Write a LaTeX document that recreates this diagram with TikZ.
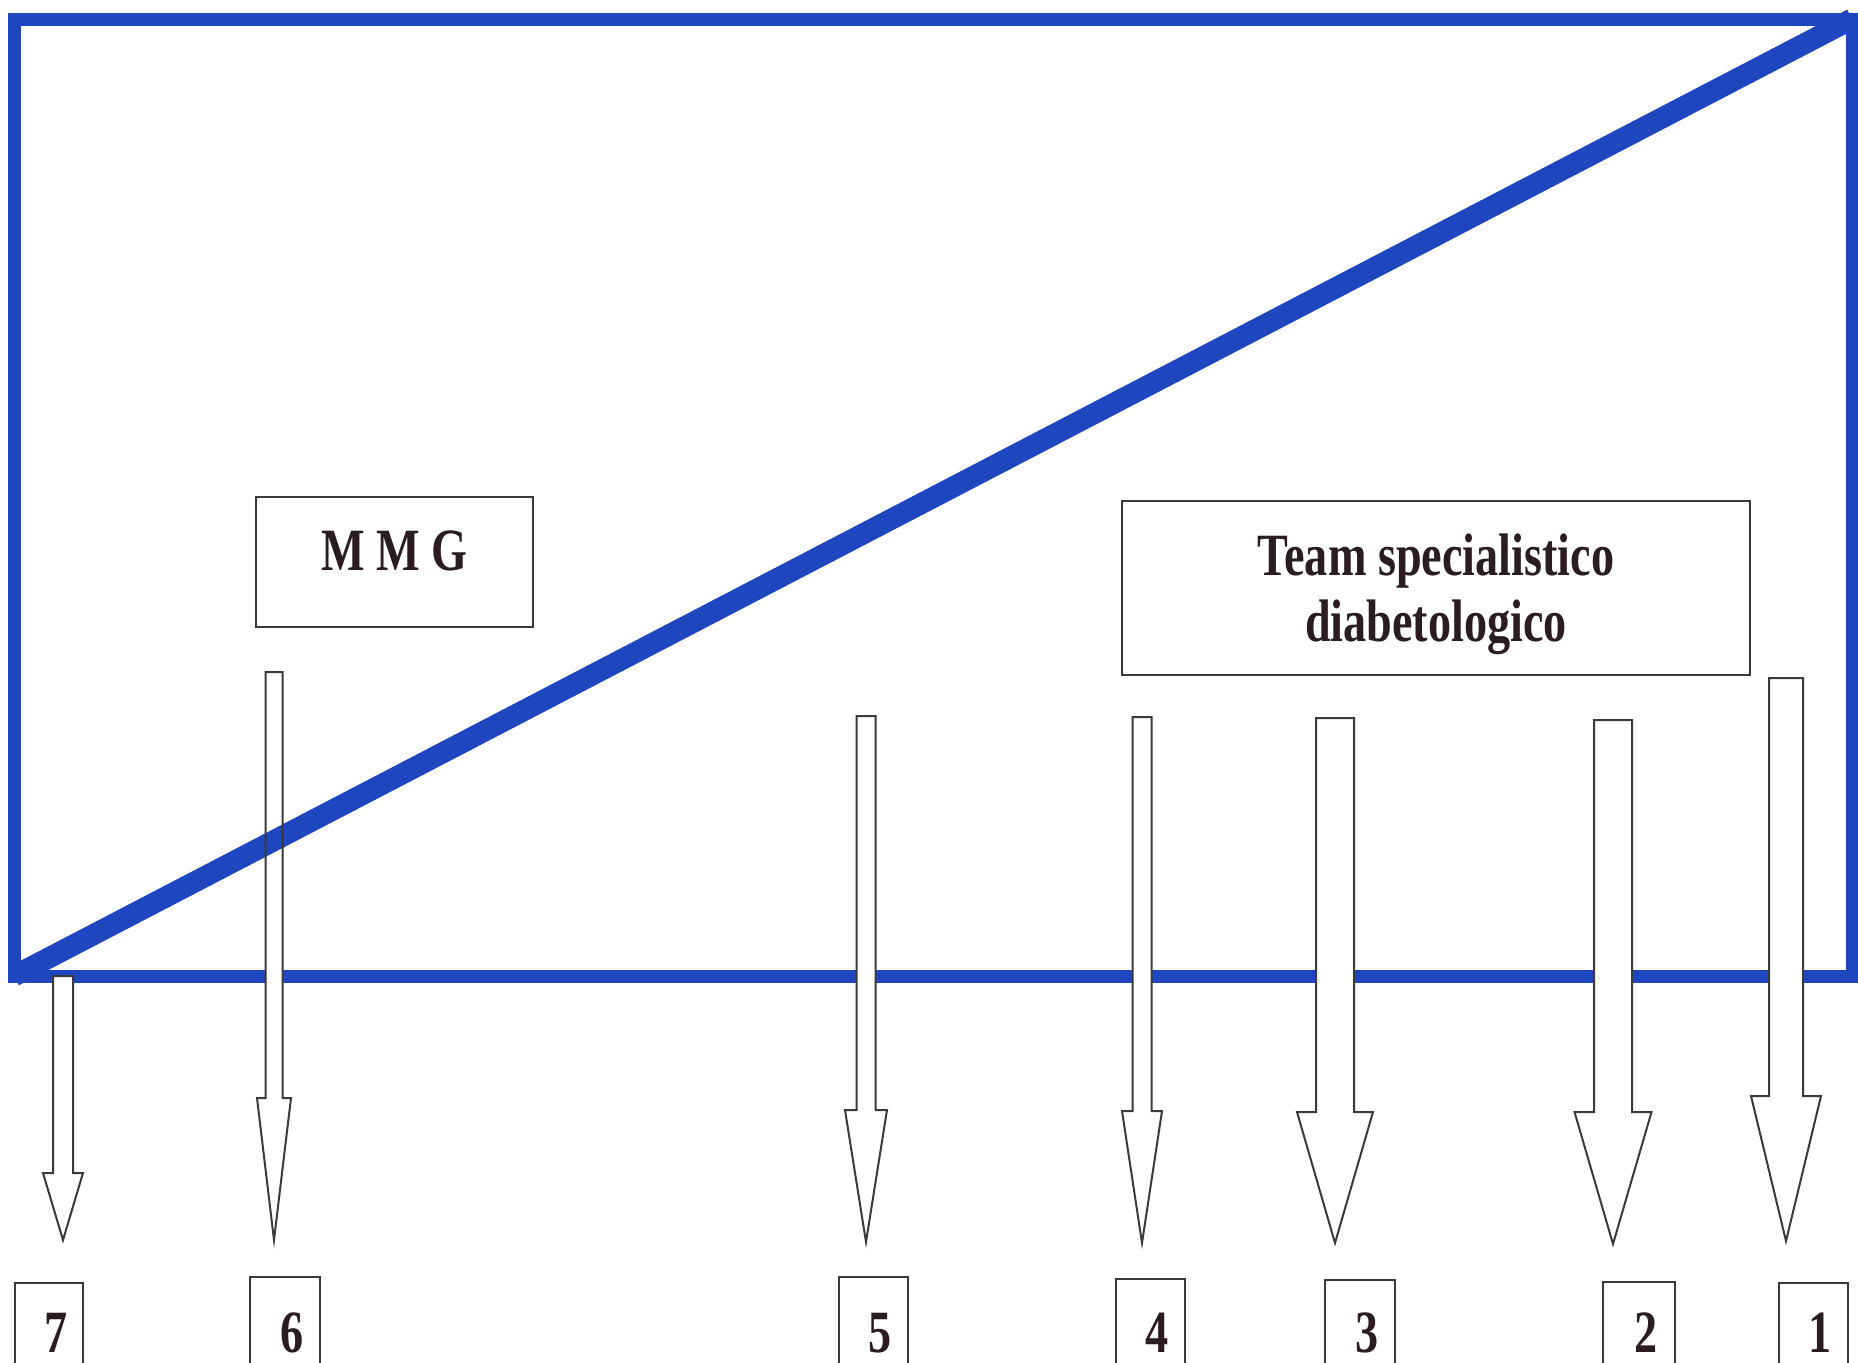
\documentclass[tikz,border=0pt]{standalone}
\usepackage{fontspec}
\newfontfamily\labelfont{Liberation Serif}[FakeStretch=0.77]
\definecolor{frameblue}{RGB}{30,70,190}
\definecolor{boxgray}{RGB}{58,58,58}
\definecolor{labelink}{RGB}{42,28,32}

% outline of a downward block arrow: centre x, top, shaft width, head width, head start, tip
\newcommand\arrowoutline[6]{(#1-#3/2,#2) -- (#1+#3/2,#2) -- (#1+#3/2,#5) -- (#1+#4/2,#5)
  -- (#1,#6) -- (#1-#4/2,#5) -- (#1-#3/2,#5) -- cycle}

% number / centre x / top / shaft width / head width / head start / tip
\def\arrowdata{7/63/976/20/40/1173/1240, 6/274/672/17/34/1098/1240,
  5/866/716/19/42/1110/1242, 4/1142/717/19/40/1111/1243,
  3/1335/718/38/76/1112/1243, 2/1613/720/38/77/1112/1244,
  1/1786/678/34/70/1096/1241}

% number / left / right / top of the numbered boxes
\def\boxdata{7/15/83/1283, 6/250/320/1277, 5/839/908/1277, 4/1116/1185/1279,
  3/1325/1395/1280, 2/1603/1675/1282, 1/1779/1848/1283}

\begin{document}
\begin{tikzpicture}[x=0.5pt, y=-0.5pt,
  labelfont/.style={font=\labelfont\bfseries\fontsize{30pt}{33pt}\selectfont, text=labelink},
  labelbox/.style={labelfont, draw=boxgray, line width=1.25pt, fill=white, inner sep=0pt},
  numlabel/.style={labelfont, anchor=base, inner sep=0pt},
  numframe/.style={draw=boxgray, line width=1.25pt},
  blockfill/.style={fill=white},
  blockline/.style={draw=boxgray, line width=1pt, line join=miter},
  frame/.style={draw=frameblue, line width=6.5pt},
  diag/.style={draw=frameblue, line width=10.5pt}]

\useasboundingbox (0,0) rectangle (1858,1362);
\clip (0,0) rectangle (1858,1362);
\fill[white] (0,0) rectangle (1858,1362);

% corners of the blue frame
\coordinate (bl) at (14,976);
\coordinate (tr) at (1852,19);

\path[frame] (14,19) rectangle (1852,976);

% white bodies of the block arrows
\foreach \an/\ax/\atop/\asw/\ahw/\ahs/\atip in \arrowdata {
  \coordinate (a\an-top) at (\ax,\atop);
  \coordinate (a\an-tip) at (\ax,\atip);
  \fill[blockfill] \arrowoutline{\ax}{\atop}{\asw}{\ahw}{\ahs}{\atip};
}

% diagonal of the frame
\path[diag] (bl) -- (tr);

% outlines of the block arrows
\foreach \an/\ax/\atop/\asw/\ahw/\ahs/\atip in \arrowdata {
  \path[blockline] \arrowoutline{\ax}{\atop}{\asw}{\ahw}{\ahs}{\atip};
}

% labelled boxes
\node[labelbox, minimum width=138.5pt, minimum height=65pt,
      text height=20pt, text depth=12pt] (mmg) at (394.5,562) {M M G};
\node[labelbox, minimum width=314pt, minimum height=87pt, align=center,
      text depth=0pt] (team) at (1436,588)
      {Team specialistico\\diabetologico};

% numbered boxes along the bottom edge, open below the page edge
\foreach \bn/\bl/\br/\btop in \boxdata {
  \path[numframe] (\bl,1400) |- (\br,\btop) -- (\br,1400);
  \node[numlabel] (n\bn) at ({(\bl+\br)/2+7},1352) {\bn};
}
\end{tikzpicture}
\end{document}
